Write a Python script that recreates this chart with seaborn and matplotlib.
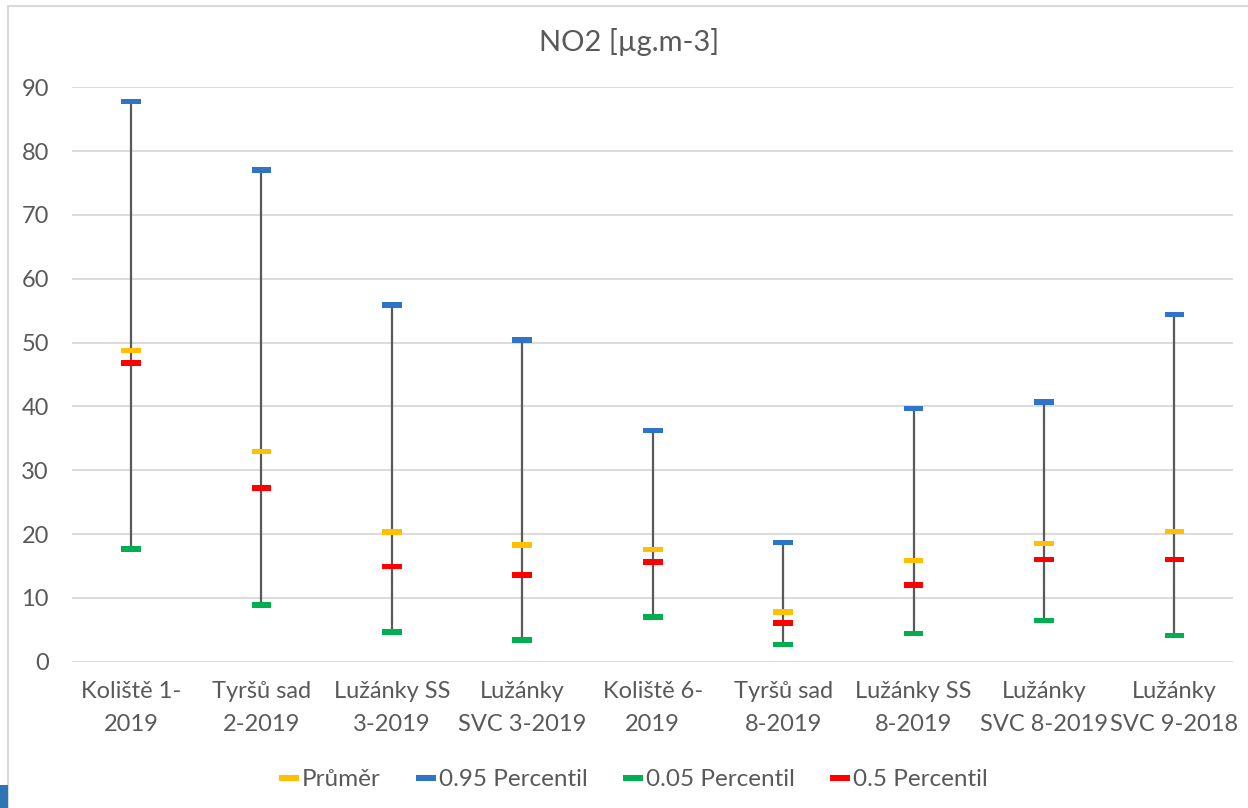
import numpy as np
import pandas as pd
import seaborn as sns
import matplotlib.pyplot as plt
from matplotlib.patches import Rectangle

categories = ["Koliště 1-\n2019", "Tyršů sad\n2-2019", "Lužánky SS\n3-2019",
              "Lužánky\nSVC 3-2019", "Koliště 6-\n2019", "Tyršů sad\n8-2019",
              "Lužánky SS\n8-2019", "Lužánky\nSVC 8-2019", "Lužánky\nSVC 9-2018"]
prumer = [48.8, 32.9, 20.3, 18.3, 17.6, 7.8, 15.9, 18.5, 20.4]
p95 = [87.8, 77.0, 55.9, 50.4, 36.2, 18.7, 39.7, 40.7, 54.4]
p05 = [17.7, 8.9, 4.7, 3.4, 7.0, 2.7, 4.4, 6.5, 4.1]
p50 = [46.8, 27.2, 14.9, 13.6, 15.6, 6.1, 12.0, 16.0, 16.0]

series = ["Průměr", "0.95 Percentil", "0.05 Percentil", "0.5 Percentil"]
colors = ["#FFC000", "#2E75C9", "#00B050", "#FF0000"]

# long format for seaborn
pos = np.arange(len(categories))
df = pd.DataFrame({
    "pos": np.tile(pos, 4),
    "value": prumer + p95 + p05 + p50,
    "series": np.repeat(series, len(categories)),
})

sns.set_style("white")
plt.rcParams["font.family"] = ["Lato", "DejaVu Sans"]
text_c = "#595959"

fig = plt.figure(figsize=(12.48, 8.08), dpi=100)
ax = fig.add_axes([0.058, 0.181, 0.93, 0.711])

# vertical range lines 5% - 95%
ax.vlines(pos, p05, p95, color="#595959", lw=1.6, zorder=2)

bar = [(-1, -0.28), (1, -0.28), (1, 0.28), (-1, 0.28)]
sns.scatterplot(data=df, x="pos", y="value", hue="series", palette=colors,
                marker=bar, s=200, linewidth=0, ax=ax, zorder=3, legend=True)

ax.set_ylim(0, 90)
ax.set_xlim(-0.45, len(categories) - 0.55)
ax.set_yticks(range(0, 91, 10))
ax.set_xticks(pos)
ax.set_xticklabels(categories, linespacing=1.7)
ax.grid(axis="y", color="#D9D9D9", lw=1.3)
ax.set_axisbelow(True)
for s in ax.spines.values():
    s.set_visible(False)
ax.tick_params(axis="both", length=0, labelsize=17, colors=text_c)
ax.tick_params(axis="y", pad=17)
ax.tick_params(axis="x", pad=14)
ax.set_xlabel("")
ax.set_ylabel("")
ax.set_title("NO2 [µg.m-3]", fontsize=21, color=text_c, pad=26, x=0.48)

handles, labels = ax.get_legend_handles_labels()
leg = ax.legend(handles, labels, loc="center", bbox_to_anchor=(0.483, -0.205),
                ncol=4, frameon=False, fontsize=17.5, handletextpad=0.1,
                columnspacing=1.4, handlelength=0.9)
for t in leg.get_texts():
    t.set_color(text_c)

# chart area border and corner mark
fig.patches.append(Rectangle((0.0065, -0.01), 1.0, 1.003, transform=fig.transFigure,
                             fill=False, edgecolor="#D9D9D9", lw=1.5))
fig.patches.append(Rectangle((0, 0), 0.0065, 0.028, transform=fig.transFigure,
                             facecolor="#2E75B6", edgecolor="none"))

fig.savefig("out.png", dpi=100)
